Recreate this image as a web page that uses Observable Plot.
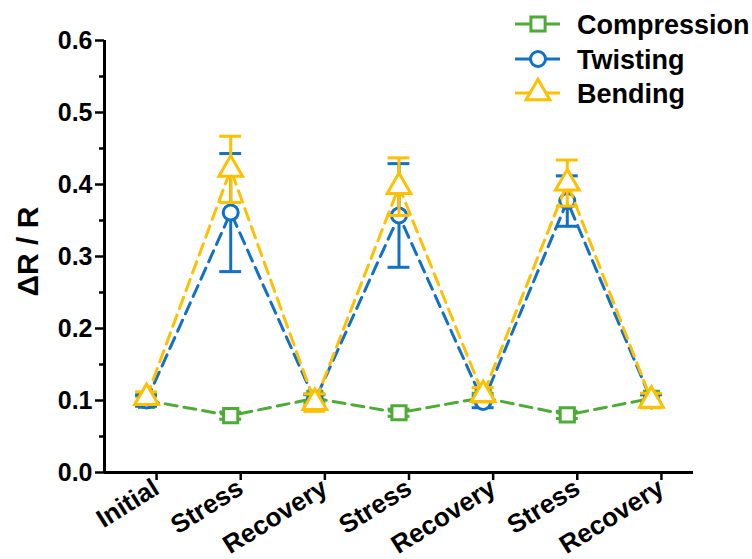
<!DOCTYPE html>
<html><head><meta charset="utf-8">
<script src="https://cdn.jsdelivr.net/npm/d3@7"></script>
<script src="https://cdn.jsdelivr.net/npm/@observablehq/plot@0.6"></script>
<style>
body{margin:0;background:#fff;}
#wrap{position:relative;width:752px;height:559px;}
#legend{position:absolute;left:0;top:0;}
</style></head><body><div id="wrap"></div>
<script>
const stages = ["Initial","Stress","Recovery","Stress","Recovery","Stress","Recovery"];
const seriesNames = ["Compression","Twisting","Bending"];
const compression = [0.100,0.079,0.103,0.083,0.104,0.080,0.103];
const compressionErr = [0.006,0.005,0.006,0.005,0.006,0.005,0.006];
const twisting = [0.100,0.361,0.100,0.357,0.098,0.377,0.100];
const twistingErr = [0.008,0.082,0.008,0.072,0.008,0.035,0.008];
const bending = [0.104,0.421,0.097,0.397,0.108,0.402,0.100];
const bendingErr = [0.008,0.046,0.012,0.040,0.010,0.032,0.010];
const yTicks = [0,0.1,0.2,0.3,0.4,0.5,0.6];
const yMinorTicks = [0.05,0.15,0.25,0.35,0.45,0.55];
const colors = ["#4dab36","#1170c8","#ffc000"];
const symbols = ["square","circle","triangle"];
const sizes = [8,7.5,8.8];

const values = [compression, twisting, bending];
const errs = [compressionErr, twistingErr, bendingErr];

const marks = [];
seriesNames.forEach((name,k)=>{
  const rows = values[k].map((v,i)=>({x:i, y:v, lo:v-errs[k][i], hi:v+errs[k][i]}));
  const c = colors[k];
  marks.push(
    Plot.line(rows,{x:"x",y:"y",stroke:c,strokeWidth:3,strokeDasharray:"12,7"}),
    Plot.ruleX(rows,{x:"x",y1:"lo",y2:"hi",stroke:c,strokeWidth:3}),
    Plot.ruleY(rows,{y:"hi",x1:d=>d.x-0.13,x2:d=>d.x+0.13,stroke:c,strokeWidth:3}),
    Plot.ruleY(rows,{y:"lo",x1:d=>d.x-0.13,x2:d=>d.x+0.13,stroke:c,strokeWidth:3}),
    Plot.dot(rows,{x:"x",y:"y",symbol:()=>symbols[k],r:sizes[k],stroke:c,strokeWidth:3,fill:"white"})
  );
});

const chart = Plot.plot({
  width:752, height:559,
  marginLeft:104, marginRight:59, marginTop:40, marginBottom:87,
  x:{domain:[-0.5,6.5]},
  y:{domain:[0,0.6]},
  symbol:{type:"identity"},
  style:{fontFamily:"'Liberation Sans', Arial, sans-serif", fontWeight:"bold", color:"#000", background:"#fff"},
  marks:[
    Plot.axisY(yTicks,{tickFormat:d=>d.toFixed(1), tickSize:9, tickPadding:3, fontSize:25, strokeWidth:2.5, label:null}),
    Plot.axisY(yMinorTicks,{tickFormat:()=>"", tickSize:5, strokeWidth:2.5, label:null}),
    Plot.axisX(d3.range(stages.length),{tickFormat:i=>stages[i], tickRotate:-32, tickSize:8, tickPadding:5, fontSize:26, strokeWidth:2.5, label:null, dx:10}),
    Plot.text(["ΔR / R"],{frameAnchor:"left", textAnchor:"middle", dx:-76, dy:-5, rotate:-90, fontSize:30, fontWeight:"bold", fill:"#000", letterSpacing:3}),
    ...marks,
    Plot.ruleX([-0.5],{strokeWidth:3}),
    Plot.ruleY([0],{strokeWidth:3})
  ]
});
const wrap = document.getElementById("wrap");
wrap.appendChild(chart);

// legend overlay
const leg = d3.select(wrap).append("svg").attr("id","legend").attr("width",752).attr("height",120)
  .style("font-family","'Liberation Sans', Arial, sans-serif").style("font-weight","bold");
const legY = [24,59,93];
seriesNames.forEach((name,k)=>{
  const g = leg.append("g").attr("transform",`translate(0,${legY[k]})`);
  g.append("line").attr("x1",515).attr("x2",560).attr("y1",0).attr("y2",0).attr("stroke",colors[k]).attr("stroke-width",3);
  g.append("path").attr("d",d3.symbol(k===0?d3.symbolSquare:k===1?d3.symbolCircle:d3.symbolTriangle, Math.PI*sizes[k]*sizes[k])())
    .attr("transform","translate(538,0)").attr("fill","white").attr("stroke",colors[k]).attr("stroke-width",3);
  g.append("text").attr("x",577).attr("y",0).attr("dy","0.36em").attr("font-size",27).attr("fill","#000").text(name);
});
</script></body></html>
